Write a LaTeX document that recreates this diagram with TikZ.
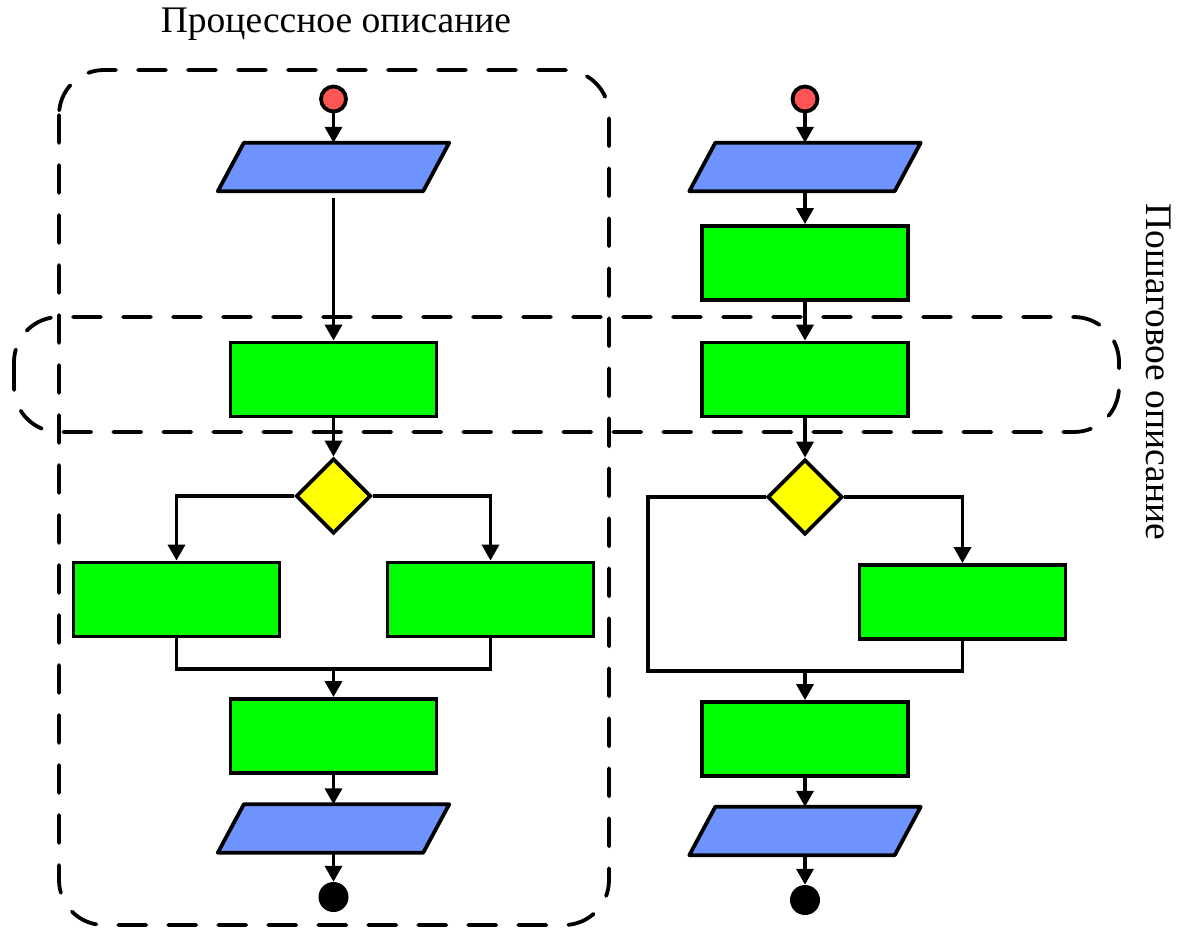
\documentclass[tikz,border=0pt]{standalone}
\usepackage{fontspec}
\setmainfont{Liberation Serif}
\usetikzlibrary{shapes.geometric,arrows.meta}
\definecolor{cred}{HTML}{FF5555}
\definecolor{cblue}{HTML}{6F93FF}
\definecolor{cgreen}{HTML}{00FF00}
\definecolor{cyell}{HTML}{FFFF00}
\newcommand\myio[2]{%
  \node[ioanchor] (#1) at #2 {};
  \draw[iodraw] ([xshift=26pt]#1.north west) -- (#1.north east) -- ([xshift=-26pt]#1.south east) -- (#1.south west) -- cycle;}
\begin{document}
\begin{tikzpicture}[x=1pt,y=-1pt,
  proc/.style={rectangle,draw=black,line width=3.8pt,fill=cgreen,minimum width=206pt,minimum height=74pt,inner sep=0pt},
  ioanchor/.style={rectangle,minimum width=231pt,minimum height=48pt,inner sep=0pt},
  iodraw/.style={draw=black,line width=3.8pt,fill=cblue,line join=round},
  dec/.style={diamond,draw=black,line width=3.8pt,fill=cyell,minimum width=75pt,minimum height=75pt,inner sep=0pt,aspect=1},
  startc/.style={circle,draw=black,line width=3.8pt,fill=cred,minimum size=25pt,inner sep=0pt},
  endc/.style={circle,fill=black,minimum size=30pt,inner sep=0pt},
  conn/.style={line width=3.5pt,-{Triangle[length=16pt,width=17pt]}},
  plain/.style={line width=3.5pt},
  group/.style={line width=3.8pt,dash pattern=on 28pt off 22pt,line cap=round,rounded corners=45pt},
  lbl/.style={font=\fontsize{37.5}{40}\selectfont,inner sep=0pt}
]
\useasboundingbox (0,0) rectangle (1178,927);
% group frames
\draw[group] (59,70) rectangle (609,925);
\draw[group] (14,317) rectangle (1119,432);
% labels
\node[lbl] (t1) at (336,24) {Процессное описание};
\node[lbl,rotate=-90] (t2) at (1159,372) {Пошаговое описание};
% left flowchart
\node[startc] (s1) at (333.5,99) {};
\myio{p1}{(333.5,167)}
\node[proc] (r1) at (333.5,379.5) {};
\node[dec] (d1) at (333.5,496) {};
\node[proc] (rL) at (176.5,599.5) {};
\node[proc] (rR) at (490.5,599.5) {};
\node[proc] (r2) at (333.5,736) {};
\myio{p2}{(333.5,828.5)}
\node[endc] (e1) at (333.5,897) {};
\coordinate (j1) at (333.5,669);
\draw[conn] (s1) -- (p1.north);
\draw[conn,shorten <=7pt] (p1.south) -- (r1.north);
\draw[conn] (r1.south) -- (d1.north);
\draw[conn] (d1.west) -| (rL.north);
\draw[conn] (d1.east) -| (rR.north);
\draw[plain] (rL.south) |- (j1) -| (rR.south);
\draw[conn] (j1) -- (r2.north);
\draw[conn] (r2.south) -- (p2.north);
\draw[conn] (p2.south) -- (e1.north);
% right flowchart
\node[startc] (s2) at (805,99) {};
\myio{p3}{(805,167)}
\node[proc] (r3) at (805,263) {};
\node[proc] (r4) at (805,379.5) {};
\node[dec] (d2) at (805,497) {};
\node[proc] (rC) at (962.5,602) {};
\node[proc] (r5) at (805,739) {};
\myio{p4}{(805,831)}
\node[endc] (e2) at (805,900) {};
\coordinate (j2) at (805,671);
\coordinate (k2) at (648,671);
\draw[conn] (s2) -- (p3.north);
\draw[conn] (p3.south) -- (r3.north);
\draw[conn] (r3.south) -- (r4.north);
\draw[conn] (r4.south) -- (d2.north);
\draw[conn] (d2.east) -| (rC.north);
\draw[plain] (d2.west) -| (k2) -- (j2);
\draw[plain] (rC.south) |- (j2);
\draw[conn] (j2) -- (r5.north);
\draw[conn] (r5.south) -- (p4.north);
\draw[conn] (p4.south) -- (e2.north);
\end{tikzpicture}
\end{document}
